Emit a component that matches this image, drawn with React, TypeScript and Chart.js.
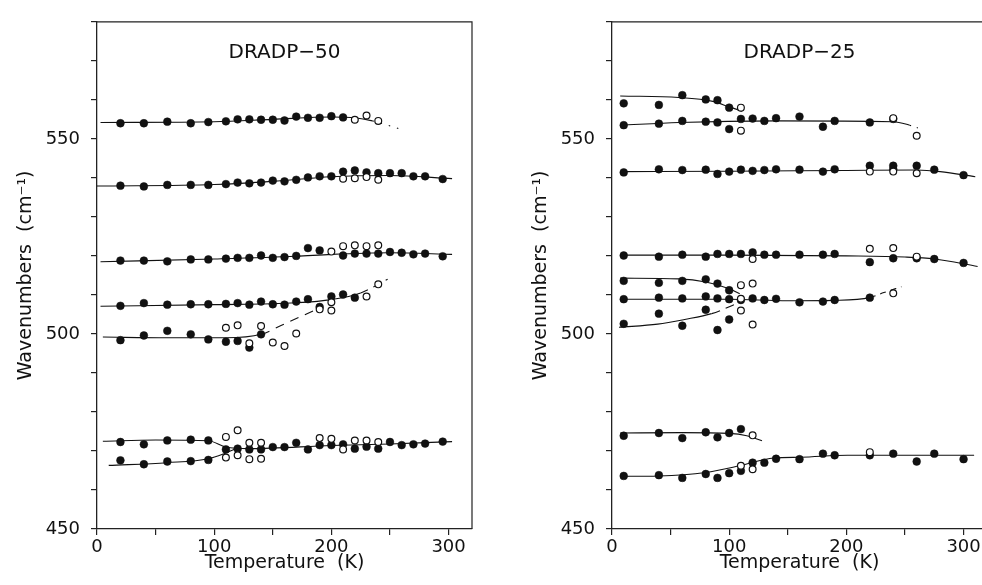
import React, { useEffect, useRef } from "react";
import { Chart, registerables } from "chart.js";
Chart.register(...registerables);

type P = [number, number];

// ---------- tick values ----------
const xTicks: number[] = [0, 50, 100, 150, 200, 250, 300];
const yTicks: number[] = [450, 460, 470, 480, 490, 500, 510, 520, 530, 540, 550, 560, 570, 580];

// ---------- DRADP-50 ----------
const d50r1Filled: P[] = [[20,554.0],[40,554.0],[60,554.4],[80,554.0],[95,554.3],[110,554.5],[120,555.0],[130,555.0],[140,554.9],[150,554.9],[160,554.7],[170,555.7],[180,555.4],[190,555.4],[200,555.8],[210,555.5]];
const d50r1Open: P[] = [[220,554.9],[230,556.0],[240,554.6]];
const d50r1Fit: P[] = [[3,554.2],[100,554.4],[150,555.0],[200,555.6],[220,555.4],[235,554.6],[262,552.2]];

const d50r2Filled: P[] = [[20,538.0],[40,537.8],[60,538.2],[80,538.2],[95,538.2],[110,538.4],[120,538.8],[130,538.6],[140,538.8],[150,539.3],[160,539.1],[170,539.5],[180,540.1],[190,540.4],[200,540.4],[210,541.6],[220,541.9],[230,541.4],[240,541.2],[250,541.2],[260,541.2],[270,540.4],[280,540.4],[295,539.7]];
const d50r2Open: P[] = [[210,539.8],[220,539.9],[230,540.2],[240,539.5]];
const d50r2Fit: P[] = [[0,537.9],[100,538.3],[150,539.1],[200,540.3],[250,540.6],[303,539.8]];

const d50r3Filled: P[] = [[20,518.8],[40,518.8],[60,518.6],[80,519.1],[95,519.1],[110,519.3],[120,519.5],[130,519.5],[140,520.1],[150,519.5],[160,519.7],[170,520.0],[180,522.0],[190,521.4],[210,520.1],[220,520.6],[230,520.6],[240,520.6],[250,521.0],[260,520.8],[270,520.4],[280,520.6],[295,519.9]];
const d50r3Open: P[] = [[200,521.1],[210,522.5],[220,522.7],[230,522.5],[240,522.7]];
const d50r3Fit: P[] = [[3,518.5],[100,519.2],[170,519.9],[200,520.4],[250,520.8],[303,520.4]];

const d50r4Filled: P[] = [[20,507.2],[40,507.9],[60,507.5],[80,507.6],[95,507.6],[110,507.7],[120,507.9],[130,507.5],[140,508.3],[150,507.6],[160,507.5],[170,508.3],[180,508.9],[190,506.9],[200,509.6],[210,510.1],[220,509.3]];
const d50r4Open: P[] = [[190,506.3],[200,508.1],[200,506.0],[230,509.6],[240,512.7]];
const d50r4Fit: P[] = [[3,507.1],[100,507.5],[170,508.0],[200,508.8],[225,510.5],[248,514.0]];

const d50r5Filled: P[] = [[20,498.4],[40,499.6],[60,500.8],[80,499.9],[95,498.6],[110,498.0],[120,498.2],[130,496.5],[140,499.9]];
const d50r5Open: P[] = [[110,501.6],[120,502.2],[130,497.6],[140,502.0],[150,497.8],[160,496.9],[170,500.1]];
const d50r5Fit: P[] = [[5,499.2],[60,499.0],[110,499.0],[140,499.9],[158,502.3],[175,504.6],[190,506.7]];

const d50r6Filled: P[] = [[20,472.3],[40,471.7],[60,472.7],[80,472.9],[95,472.7],[110,470.4],[120,470.6],[130,470.4],[140,470.4],[150,471.0],[160,471.0],[170,472.1],[180,470.4],[190,471.5],[200,471.5],[210,471.7],[220,470.6],[230,471.1],[240,470.6],[250,472.3],[260,471.5],[270,471.7],[280,471.9],[295,472.4]];
const d50r6Open: P[] = [[110,473.6],[120,475.3],[130,472.1],[140,472.1],[190,473.3],[200,473.1],[210,470.4],[220,472.7],[230,472.7],[240,472.3]];
const d50r6Fit: P[] = [[5,472.5],[50,472.8],[95,472.6],[110,471.0],[130,470.6],[200,471.4],[250,471.8],[303,472.4]];

const d50r7Filled: P[] = [[20,467.6],[40,466.6],[60,467.3],[80,467.4],[95,467.7]];
const d50r7Open: P[] = [[110,468.3],[120,468.9],[130,467.9],[140,468.0]];
const d50r7Fit: P[] = [[10,466.3],[60,467.0],[95,468.0],[110,469.5],[118,470.5]];

// ---------- DRADP-25 ----------
const d25aFilled: P[] = [[10,559.1],[40,558.7],[60,561.2],[80,560.1],[90,559.9],[100,558.0]];
const d25aOpen: P[] = [[110,558.0]];
const d25aFit: P[] = [[7,561.0],[57,560.6],[86,559.6],[100,558.2],[111,557.1]];

const d25bFilled: P[] = [[10,553.5],[40,553.9],[60,554.6],[80,554.4],[90,554.2],[100,552.5],[110,555.1],[120,555.2],[130,554.6],[140,555.3],[160,555.7],[180,553.1],[190,554.6],[220,554.2],[240,555.1]];
const d25bOpen: P[] = [[110,552.1],[240,555.3],[260,550.8]];
const d25bFit: P[] = [[7,553.5],[57,554.2],[140,554.6],[240,554.4],[254,553.5],[261,552.8]];

const d25cFilled: P[] = [[10,541.4],[40,542.2],[60,542.0],[80,542.1],[90,541.0],[100,541.6],[110,542.1],[120,541.8],[130,542.0],[140,542.2],[160,542.1],[180,541.6],[190,542.2],[220,543.1],[240,543.1],[240,542.2],[260,543.1],[275,542.1],[300,540.7]];
const d25cOpen: P[] = [[220,541.6],[240,541.6],[260,541.2]];
const d25cFit: P[] = [[7,541.6],[100,541.7],[200,541.9],[260,542.0],[280,541.6],[310,540.3]];

const d25dFilled: P[] = [[10,520.1],[40,519.8],[60,520.3],[80,519.8],[90,520.5],[100,520.5],[110,520.5],[120,520.9],[130,520.3],[140,520.3],[160,520.3],[180,520.3],[190,520.5],[220,518.4],[240,519.4],[260,519.4],[275,519.2],[300,518.2]];
const d25dOpen: P[] = [[120,519.2],[220,521.8],[240,522.0],[260,519.8]];
const d25dFit: P[] = [[7,520.2],[100,520.2],[200,520.0],[250,519.7],[275,519.2],[312,517.3]];

const d25eFilled: P[] = [[10,513.6],[40,513.1],[60,513.6],[80,514.0],[90,512.9],[100,511.2]];
const d25eOpen: P[] = [[110,512.5],[120,512.9]];
const d25eFit: P[] = [[7,514.3],[57,514.1],[80,513.3],[100,511.6],[109,510.3]];

const d25fFilled: P[] = [[10,508.9],[40,509.3],[60,509.1],[80,509.6],[90,509.1],[100,508.9],[110,508.7],[120,509.1],[130,508.7],[140,509.0],[160,508.1],[180,508.3],[190,508.7],[220,509.3]];
const d25fOpen: P[] = [[110,509.0],[240,510.4]];
const d25fFit: P[] = [[7,508.9],[100,508.9],[150,508.5],[190,508.6],[220,509.3],[232,510.6],[247,512.1]];

const d25gFilled: P[] = [[10,502.6],[40,505.2],[60,502.1],[80,506.2],[90,501.0],[100,503.7]];
const d25gOpen: P[] = [[110,506.0],[120,502.4]];
const d25gFit: P[] = [[6,501.7],[39,502.5],[62,503.7],[85,505.2],[105,507.6],[110,508.3]];

const d25hFilled: P[] = [[10,473.9],[40,474.6],[60,473.3],[80,474.8],[90,473.5],[100,474.6],[110,475.6]];
const d25hOpen: P[] = [[120,474.0]];
const d25hFit: P[] = [[7,474.6],[60,474.7],[100,474.5],[115,473.9],[128,472.6]];

const d25iFilled: P[] = [[10,463.6],[40,463.8],[60,463.1],[80,464.1],[90,463.1],[100,464.3],[110,464.9],[120,467.0],[130,467.0],[140,468.0],[160,467.9],[180,469.3],[190,468.9],[220,468.9],[240,469.3],[260,467.3],[275,469.3],[300,467.9]];
const d25iOpen: P[] = [[110,466.2],[120,465.3],[220,469.7]];
const d25iFit: P[] = [[7,463.5],[40,463.6],[80,464.5],[109,466.2],[138,468.2],[161,468.4],[201,468.9],[259,468.9],[309,468.9]];

interface Fit { pts: P[]; dashFrom?: number; dash?: number[] }

const FONT = '"DejaVu Sans", sans-serif';
const INK = "#111";

const d50Fits: Fit[] = [
  { pts: d50r1Fit, dashFrom: 232, dash: [1.5, 7] },
  { pts: d50r2Fit },
  { pts: d50r3Fit },
  { pts: d50r4Fit, dashFrom: 224, dash: [8, 6] },
  { pts: d50r5Fit, dashFrom: 139, dash: [9, 7] },
  { pts: d50r6Fit },
  { pts: d50r7Fit },
];
const d25Fits: Fit[] = [
  { pts: d25aFit },
  { pts: d25bFit, dashFrom: 253, dash: [1.5, 6] },
  { pts: d25cFit },
  { pts: d25dFit },
  { pts: d25eFit },
  { pts: d25fFit, dashFrom: 219, dash: [6, 5] },
  { pts: d25gFit, dashFrom: 64, dash: [9, 6] },
  { pts: d25hFit },
  { pts: d25iFit },
];

const toXY = (a: P[]) => a.map(([x, y]) => ({ x, y }));

function makeChart(canvas: HTMLCanvasElement, title: string, filled: P[][], open: P[][], fits: Fit[]) {
  const framePlugin = {
    id: "frame" + title,
    afterDraw(chart: any) {
      const { ctx, chartArea } = chart;
      const { left, top, right, bottom } = chartArea;
      ctx.save();
      ctx.strokeStyle = "#222";
      ctx.lineWidth = 1.2;
      ctx.beginPath();
      ctx.moveTo(left, top);
      ctx.lineTo(right, top);
      ctx.lineTo(right, bottom);
      ctx.stroke();
      ctx.font = "20px " + FONT;
      ctx.fillStyle = INK;
      ctx.textAlign = "center";
      ctx.textBaseline = "middle";
      ctx.fillText(title, (left + right) / 2, top + 31);
      ctx.restore();
    },
  };

  const datasets: any[] = [
    {
      data: toXY(open.flat()),
      pointRadius: 3.4,
      pointBackgroundColor: "#fff",
      pointBorderColor: INK,
      pointBorderWidth: 1.2,
      showLine: false,
      order: 0,
    },
    {
      data: toXY(filled.flat()),
      pointRadius: 3.9,
      pointBackgroundColor: INK,
      pointBorderColor: INK,
      pointBorderWidth: 0.5,
      showLine: false,
      order: 1,
    },
    ...fits.map((f) => ({
      data: toXY(f.pts),
      showLine: true,
      pointRadius: 0,
      borderColor: INK,
      borderWidth: 1.1,
      cubicInterpolationMode: "monotone",
      fill: false,
      order: 2,
      segment: {
        borderDash: (ctx: any) =>
          f.dashFrom !== undefined && ctx.p0.parsed.x >= f.dashFrom ? f.dash : undefined,
      },
    })),
  ];

  return new Chart(canvas, {
    type: "scatter",
    data: { datasets },
    plugins: [framePlugin],
    options: {
      animation: false,
      responsive: false,
      devicePixelRatio: 1,
      events: [],
      layout: { padding: { left: 0, right: 8, top: 15, bottom: 0 } },
      plugins: { legend: { display: false }, tooltip: { enabled: false }, title: { display: false } },
      scales: {
        x: {
          type: "linear",
          min: 0,
          max: 320,
          afterBuildTicks: (s: any) => { s.ticks = xTicks.map((v) => ({ value: v })); },
          afterFit: (s: any) => { s.height = 56; },
          border: { display: true, color: "#222", width: 1.3 },
          grid: { display: true, drawOnChartArea: false, drawTicks: true, tickLength: 6, color: "#222", lineWidth: 1.2 },
          ticks: {
            autoSkip: false,
            maxRotation: 0,
            padding: 2,
            color: INK,
            font: { family: FONT, size: 18 },
            callback: (v: any) => (Number(v) % 100 === 0 ? String(v) : ""),
          },
          title: {
            display: true,
            text: "Temperature  (K)",
            color: INK,
            font: { family: FONT, size: 19 },
            padding: { top: 0, bottom: 10.5 },
          },
        },
        y: {
          type: "linear",
          min: 450,
          max: 580,
          afterBuildTicks: (s: any) => { s.ticks = yTicks.map((v) => ({ value: v })); },
          afterFit: (s: any) => { s.width = 97; },
          border: { display: true, color: "#222", width: 1.3 },
          grid: { display: true, drawOnChartArea: false, drawTicks: true, tickLength: 6, color: "#222", lineWidth: 1.2 },
          ticks: {
            autoSkip: false,
            padding: 11,
            color: INK,
            font: { family: FONT, size: 18 },
            callback: (v: any) => (Number(v) % 50 === 0 ? String(v) : ""),
          },
          title: {
            display: true,
            text: "Wavenumbers  (cm⁻¹)",
            color: INK,
            font: { family: FONT, size: 19 },
            padding: { top: 14.5, bottom: 0 },
          },
        },
      },
    } as any,
  });
}

export default function App() {
  const leftRef = useRef<HTMLCanvasElement>(null);
  const rightRef = useRef<HTMLCanvasElement>(null);

  useEffect(() => {
    const c1 = makeChart(
      leftRef.current!,
      "DRADP−50",
      [d50r1Filled, d50r2Filled, d50r3Filled, d50r4Filled, d50r5Filled, d50r6Filled, d50r7Filled],
      [d50r1Open, d50r2Open, d50r3Open, d50r4Open, d50r5Open, d50r6Open, d50r7Open],
      d50Fits
    );
    const c2 = makeChart(
      rightRef.current!,
      "DRADP−25",
      [d25aFilled, d25bFilled, d25cFilled, d25dFilled, d25eFilled, d25fFilled, d25gFilled, d25hFilled, d25iFilled],
      [d25aOpen, d25bOpen, d25cOpen, d25dOpen, d25eOpen, d25fOpen, d25gOpen, d25hOpen, d25iOpen],
      d25Fits
    );
    return () => { c1.destroy(); c2.destroy(); };
  }, []);

  return (
    <div style={{ position: "absolute", left: 0, top: 0, width: 982, height: 585, overflow: "hidden", background: "#fff" }}>
      <canvas ref={leftRef} width={480} height={585} style={{ position: "absolute", left: 0, top: 0, width: 480, height: 585 }} />
      <canvas ref={rightRef} width={480} height={585} style={{ position: "absolute", left: 515, top: 0, width: 480, height: 585 }} />
    </div>
  );
}
